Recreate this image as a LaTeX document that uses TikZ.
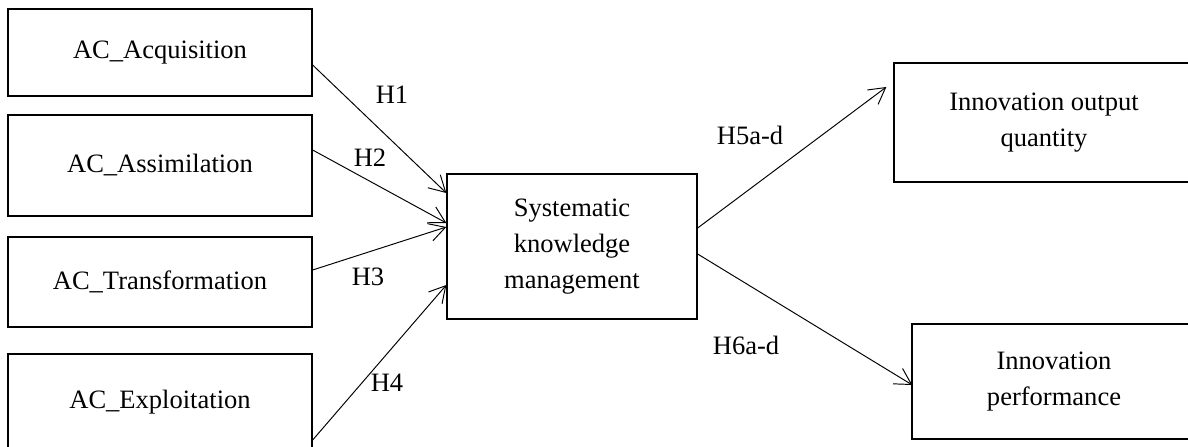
\documentclass[tikz,border=0pt]{standalone}
\usepackage{fontspec}
\setmainfont{Liberation Serif}
\usepackage{tikz}
\usetikzlibrary{arrows.meta}

\begin{document}
\begin{tikzpicture}[every node/.style={draw, rectangle, inner sep=0pt, align=center}]
        \useasboundingbox (0,0) rectangle (23.76,-8.92);
        \clip (0,0) rectangle (23.76,-8.92);
        \tikzset{every node/.append style={line width=0.75pt, font=\fontsize{15.1}{20.5}\selectfont}}
        \tikzset{acbox/.style={minimum width=6.08cm}}
        % capacities
        \node [acbox, minimum height=1.74cm] (acq) at (3.2, -1.05) {AC\_Acquisition};
        \node [acbox, minimum height=2.02cm] (ass) at (3.2, -3.31) {AC\_Assimilation};
        \node [acbox, minimum height=1.8cm] (tra) at (3.2, -5.64) {AC\_Transformation};
        \node [acbox, minimum height=1.92cm] (exp) at (3.2, -8.04) {AC\_Exploitation};
        % mediator
        \node [minimum width=5.0cm, minimum height=2.9cm] (skm) at (11.44, -4.93) {Systematic\\knowledge\\management};
        % outcomes
        \node [minimum width=6.0cm, minimum height=2.38cm] (out) at (20.88, -2.45) {Innovation output\\quantity};
        \node [minimum width=5.68cm, minimum height=2.3cm] (perf) at (21.08, -7.63) {Innovation\\performance};
        % labels
        \tikzset{every node/.style={font=\fontsize{15.1}{17}\selectfont, inner sep=0pt}}
        \node (h1) at (7.84, -1.9) {H1};
        \node (h2) at (7.4, -3.16) {H2};
        \node (h3) at (7.36, -5.54) {H3};
        \node (h4) at (7.74, -7.66) {H4};
        \node (h5) at (15.0, -2.7) {H5a-d};
        \node (h6) at (14.92, -6.9) {H6a-d};
        \tikzset{hypo/.style={-{Straight Barb[length=3.2mm,width=3.6mm]}, line width=0.55pt}}
        \path ([yshift=-0.25cm]acq.east) edge [hypo] ([yshift=1.07cm]skm.west);
        \path ([yshift=0.31cm]ass.east) edge [hypo] ([yshift=0.47cm]skm.west);
        \path ([yshift=0.24cm]tra.east) edge [hypo] ([yshift=0.39cm]skm.west);
        \path ([yshift=-0.76cm]exp.east) edge [hypo] ([yshift=-0.77cm]skm.west);
        \path ([yshift=0.37cm]skm.east) edge [hypo] ([xshift=-0.14cm, yshift=0.71cm]out.west);
        \path ([yshift=-0.15cm]skm.east) edge [hypo] ([xshift=0.02cm, yshift=-0.07cm]perf.west);
      \end{tikzpicture}
\end{document}
